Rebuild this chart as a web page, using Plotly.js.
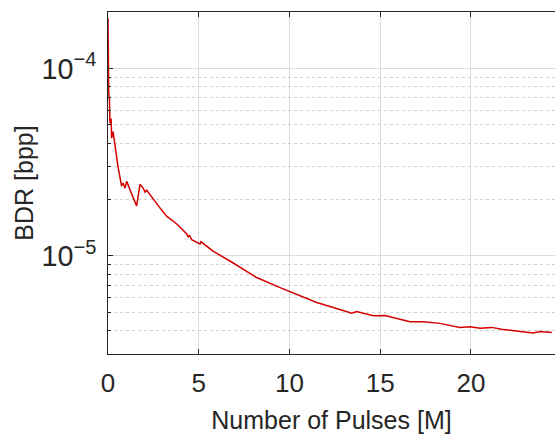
<!DOCTYPE html>
<html>
<head>
<meta charset="utf-8">
<script src="https://cdn.plot.ly/plotly-3.0.1.min.js"></script>
<style>html,body{margin:0;padding:0;background:#fff;}#chart{width:555px;height:434px;}</style>
</head>
<body>
<div id="chart"></div>
<script>
// Number of pulses [M]
const pulses = [0.0, 0.02, 0.03, 0.04, 0.08, 0.11, 0.17, 0.20, 0.28, 0.33, 0.39, 0.55, 0.70, 0.75, 0.83, 0.94, 1.03, 1.10, 1.21, 1.39, 1.58, 1.67, 1.76, 1.94, 2.04, 2.13, 2.31, 2.50, 2.87, 3.23, 3.79, 4.34, 4.42, 4.49, 4.61, 4.96, 5.07, 5.12, 5.79, 6.72, 8.19, 9.48, 10.40, 11.50, 12.41, 13.43, 13.70, 14.62, 15.26, 15.91, 16.64, 17.37, 18.29, 19.39, 19.94, 20.50, 21.14, 21.69, 22.52, 23.43, 23.80, 24.45];
// BDR [bpp]
const bdr = [1.85e-4, 1.0e-4, 8.5e-5, 7.4e-5, 6.8e-5, 5.1e-5, 5.4e-5, 4.25e-5, 4.6e-5, 4.2e-5, 3.85e-5, 3.0e-5, 2.5e-5, 2.36e-5, 2.45e-5, 2.3e-5, 2.5e-5, 2.39e-5, 2.27e-5, 2.04e-5, 1.85e-5, 2.08e-5, 2.41e-5, 2.3e-5, 2.19e-5, 2.24e-5, 2.11e-5, 2.01e-5, 1.8e-5, 1.63e-5, 1.48e-5, 1.31e-5, 1.26e-5, 1.29e-5, 1.22e-5, 1.17e-5, 1.16e-5, 1.19e-5, 1.06e-5, 9.4e-6, 7.67e-6, 6.78e-6, 6.25e-6, 5.65e-6, 5.31e-6, 4.95e-6, 5.06e-6, 4.8e-6, 4.81e-6, 4.66e-6, 4.46e-6, 4.46e-6, 4.37e-6, 4.16e-6, 4.19e-6, 4.12e-6, 4.16e-6, 4.07e-6, 3.99e-6, 3.88e-6, 3.95e-6, 3.91e-6];
const xTitle = 'Number of Pulses [M]';
const yTitle = 'BDR [bpp]';

const font = 'Liberation Sans, Arial, Helvetica, sans-serif';
const axisColor = '#262626';

Plotly.newPlot('chart', [{
  x: pulses, y: bdr, type: 'scatter', mode: 'lines',
  line: {color: '#d40000', width: 1.5}, hoverinfo: 'skip'
}], {
  width: 555, height: 434,
  margin: {l: 108, r: 0, t: 12, b: 80},
  paper_bgcolor: '#fff', plot_bgcolor: '#fff',
  showlegend: false,
  font: {family: font, color: axisColor},
  xaxis: {
    range: [0, 24.63], dtick: 5, tick0: 0,
    ticks: 'inside', ticklen: 5, tickcolor: axisColor,
    showline: true, linecolor: axisColor, linewidth: 1, mirror: 'ticks',
    showgrid: true, gridcolor: '#dcdcdc', zeroline: false,
    tickfont: {size: 26, family: font, color: axisColor},
    ticklabelstandoff: 6,
    title: {text: xTitle, font: {size: 25, family: font, color: axisColor}, standoff: 14}
  },
  yaxis: {
    type: 'log', range: [Math.log10(3e-6), Math.log10(2e-4)], dtick: 1,
    exponentformat: 'power',
    ticks: 'inside', ticklen: 5, tickcolor: axisColor,
    showline: true, linecolor: axisColor, linewidth: 1,
    showgrid: true, gridcolor: '#dcdcdc', zeroline: false,
    tickfont: {size: 23, family: font, color: axisColor},
    ticklabelstandoff: 6,
    minor: {ticks: 'inside', ticklen: 3, tickcolor: axisColor, showgrid: true, gridcolor: '#cfcfcf', griddash: 'dot', gridwidth: 1},
    title: {text: yTitle, font: {size: 25, family: font, color: axisColor}, standoff: 0}
  }
}, {displayModeBar: false, staticPlot: true});
</script>
</body>
</html>
